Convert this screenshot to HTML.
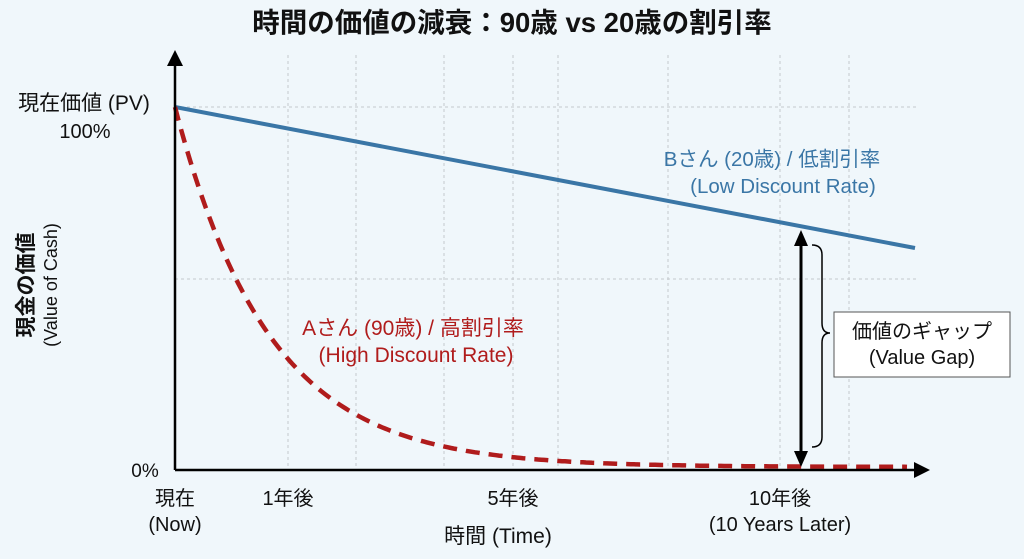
<!DOCTYPE html>
<html><head><meta charset="utf-8"><style>
body{margin:0;background:#f0f7fb;}
svg{display:block;font-family:"Liberation Sans","Noto Sans CJK JP",sans-serif;}
</style></head><body>
<svg width="1024" height="559" viewBox="0 0 1024 559" xmlns="http://www.w3.org/2000/svg">
<rect width="1024" height="559" fill="#f0f7fb"/>
<text x="512" y="32" text-anchor="middle" font-size="27.5" font-weight="bold" fill="#111">時間の価値の減衰：90歳 vs 20歳の割引率</text>
<g stroke="#c4c8cc" stroke-width="1" stroke-dasharray="3,3">
<line x1="288" y1="55" x2="288" y2="470"/><line x1="356" y1="55" x2="356" y2="470"/>
<line x1="444" y1="55" x2="444" y2="470"/><line x1="513" y1="55" x2="513" y2="470"/>
<line x1="558" y1="55" x2="558" y2="470"/><line x1="668" y1="55" x2="668" y2="470"/>
<line x1="780" y1="55" x2="780" y2="470"/><line x1="849" y1="55" x2="849" y2="470"/>
<line x1="175" y1="107" x2="918" y2="107"/><line x1="175" y1="279" x2="918" y2="279"/>
</g>
<line x1="915" y1="248" x2="175" y2="107" stroke="#3a76a6" stroke-width="4"/>
<path id="red" fill="none" stroke="#b01c1c" stroke-width="4.5" stroke-dasharray="14,9" d=""/>
<line x1="175" y1="470" x2="918" y2="470" stroke="#000" stroke-width="2.5"/>
<polygon points="930,470 914,462 914,478" fill="#000"/>
<line x1="175" y1="470" x2="175" y2="62" stroke="#000" stroke-width="2.5"/>
<polygon points="175,50 167,66 183,66" fill="#000"/>
<line x1="801" y1="242" x2="801" y2="455" stroke="#000" stroke-width="3"/>
<polygon points="801,230 794,246 808,246" fill="#000"/>
<polygon points="801,467 794,451 808,451" fill="#000"/>
<path d="M812,245 Q822,245 822,255 L822,323 Q822,333 830,333 Q822,333 822,343 L822,437 Q822,447 812,447" fill="none" stroke="#000" stroke-width="1.5"/>
<rect x="834" y="312" width="176" height="65" fill="#fff" stroke="#555" stroke-width="1"/>
<text x="922" y="338" text-anchor="middle" font-size="20" fill="#111">価値のギャップ</text>
<text x="922" y="364" text-anchor="middle" font-size="20" fill="#111">(Value Gap)</text>
<text x="772" y="166" text-anchor="middle" font-size="20.5" fill="#3a76a6">Bさん (20歳) / 低割引率</text>
<text x="783" y="193" text-anchor="middle" font-size="20.5" fill="#3a76a6">(Low Discount Rate)</text>
<text x="413" y="335" text-anchor="middle" font-size="21" fill="#b01c1c">Aさん (90歳) / 高割引率</text>
<text x="416" y="362" text-anchor="middle" font-size="21" fill="#b01c1c">(High Discount Rate)</text>
<text x="84" y="110" text-anchor="middle" font-size="21" fill="#111">現在価値 (PV)</text>
<text x="85" y="138" text-anchor="middle" font-size="20" fill="#111">100%</text>
<text x="145" y="477" text-anchor="middle" font-size="19" fill="#111">0%</text>
<g transform="translate(33,285) rotate(-90)"><text x="0" y="0" text-anchor="middle" font-size="21" font-weight="bold" fill="#111">現金の価値</text></g>
<g transform="translate(57,285) rotate(-90)"><text x="0" y="0" text-anchor="middle" font-size="18" fill="#111">(Value of Cash)</text></g>
<text x="175" y="505" text-anchor="middle" font-size="20" fill="#111">現在</text>
<text x="175" y="531" text-anchor="middle" font-size="20" fill="#111">(Now)</text>
<text x="288" y="505" text-anchor="middle" font-size="20" fill="#111">1年後</text>
<text x="513" y="505" text-anchor="middle" font-size="20" fill="#111">5年後</text>
<text x="780" y="505" text-anchor="middle" font-size="20" fill="#111">10年後</text>
<text x="780" y="531" text-anchor="middle" font-size="20" fill="#111">(10 Years Later)</text>
<text x="498" y="543" text-anchor="middle" font-size="21" fill="#111">時間 (Time)</text>
</svg>
<script>
var d="";for(var x=175;x<=908;x+=3){var y=467-360*Math.exp(-0.01065*(x-175));d+=(x==175?"M":"L")+x+","+y.toFixed(1);}
document.getElementById("red").setAttribute("d",d);
</script>
</body></html>
